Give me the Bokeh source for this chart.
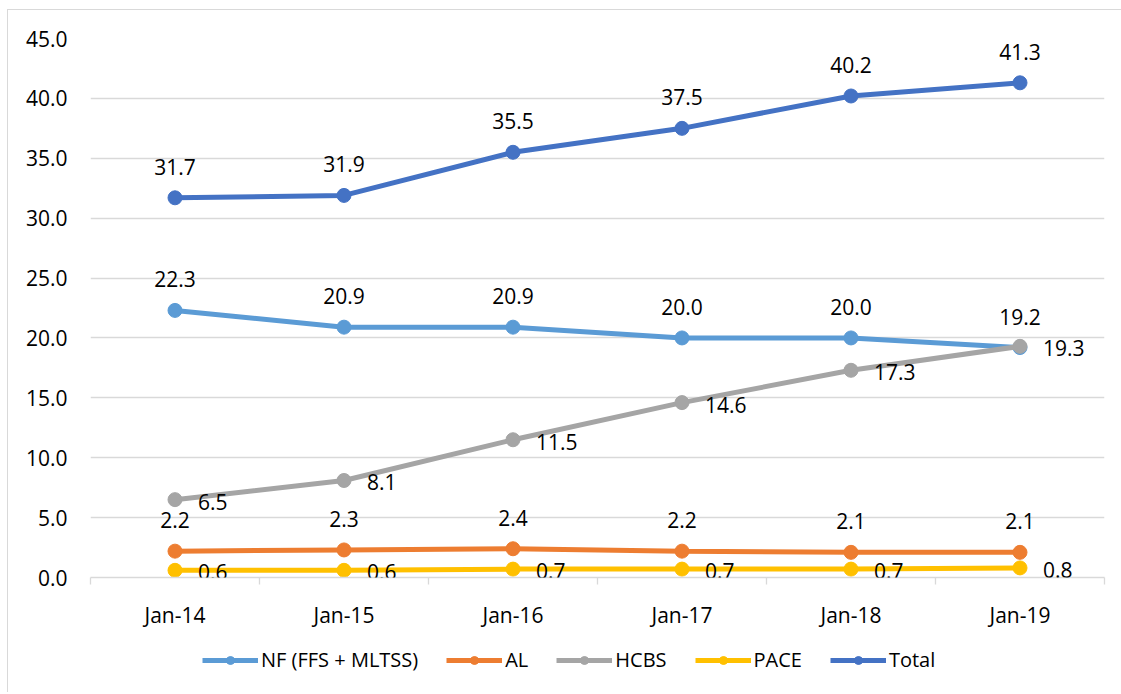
from bokeh.plotting import figure
from bokeh.layouts import column
from bokeh.models import (ColumnDataSource, Range1d, FixedTicker, Legend, LegendItem,
                          LabelSet, PrintfTickFormatter)
from bokeh.core.properties import value
from bokeh.embed import file_html
from bokeh.resources import INLINE

categories = ["Jan-14", "Jan-15", "Jan-16", "Jan-17", "Jan-18", "Jan-19"]
nf = [22.3, 20.9, 20.9, 20.0, 20.0, 19.2]
al = [2.2, 2.3, 2.4, 2.2, 2.1, 2.1]
hcbs = [6.5, 8.1, 11.5, 14.6, 17.3, 19.3]
pace = [0.6, 0.6, 0.7, 0.7, 0.7, 0.8]
total = [31.7, 31.9, 35.5, 37.5, 40.2, 41.3]
y_ticks = [0, 5, 10, 15, 20, 25, 30, 35, 40, 45]

series = [
    ("NF (FFS + MLTSS)", nf, "#5B9BD5", "above"),
    ("AL", al, "#ED7D31", "above"),
    ("HCBS", hcbs, "#A5A5A5", "right"),
    ("PACE", pace, "#FFC000", "right"),
    ("Total", total, "#4472C4", "above"),
]

FONT = "Open Sans"
FS = "21px"
xs = [i + 0.5 for i in range(len(categories))]

p = figure(width=1114, height=627, output_backend="svg", toolbar_location=None,
           x_range=Range1d(0, len(categories)), y_range=Range1d(0, 45),
           min_border_left=82, min_border_right=18, min_border_top=28,
           min_border_bottom=60)
p.styles = {"border-left": "1px solid #d9d9d9", "border-top": "1px solid #d9d9d9",
            "box-sizing": "border-box", "margin-left": "7px", "margin-top": "9px"}
p.outline_line_color = None
p.background_fill_color = "white"
p.border_fill_color = "white"

# grid / axes
p.xgrid.grid_line_color = None
p.ygrid.grid_line_color = "#d9d9d9"
p.ygrid.grid_line_width = 1.3
p.yaxis.ticker = FixedTicker(ticks=y_ticks)
p.yaxis.formatter = PrintfTickFormatter(format="%.1f")
p.yaxis.axis_line_color = None
p.yaxis.major_tick_line_color = None
p.yaxis.major_tick_out = 0
p.yaxis.minor_tick_line_color = None
p.yaxis.major_label_standoff = 23
p.yaxis.major_label_text_font = FONT
p.yaxis.major_label_text_font_size = FS
p.yaxis.major_label_text_color = "#000000"

p.xaxis.ticker = FixedTicker(ticks=xs, minor_ticks=list(range(len(categories) + 1)))
p.xaxis.major_label_overrides = {x: c for x, c in zip(xs, categories)}
p.xaxis.axis_line_color = "#d9d9d9"
p.xaxis.axis_line_width = 1.3
p.xaxis.major_tick_line_color = None
p.xaxis.major_tick_out = 0
p.xaxis.minor_tick_line_color = "#d9d9d9"
p.xaxis.minor_tick_line_width = 1.3
p.xaxis.minor_tick_out = 7
p.xaxis.minor_tick_in = 0
p.xaxis.major_label_standoff = 16
p.xaxis.major_label_text_font = FONT
p.xaxis.major_label_text_font_size = FS
p.xaxis.major_label_text_color = "#000000"

# legend-only strip below the chart
lg = figure(width=1114, height=56, output_backend="svg", toolbar_location=None,
            x_range=Range1d(0, 1), y_range=Range1d(0, 1),
            x_axis_type=None, y_axis_type=None,
            min_border_left=0, min_border_right=0, min_border_top=0, min_border_bottom=0)
lg.styles = {"border-left": "1px solid #d9d9d9", "box-sizing": "border-box",
             "margin-left": "7px"}
lg.outline_line_color = None
lg.xgrid.grid_line_color = None
lg.ygrid.grid_line_color = None
lg.background_fill_color = "white"
lg.border_fill_color = "white"

items = []
label_sets = []
for name, vals, color, pos in series:
    src = ColumnDataSource(dict(x=xs, y=vals, t=[f"{v:.1f}" for v in vals]))
    p.line("x", "y", source=src, line_color=color, line_width=5)
    p.scatter("x", "y", source=src, size=14, fill_color=color, line_color=color)
    # legend proxies: one point placed outside the strip's visible range
    l1 = lg.line(x=[-5, -4], y=[-5, -5], line_color=color, line_width=5)
    l2 = lg.scatter(x=[-5], y=[-5], size=14, fill_color=color, line_color=color)
    items.append(LegendItem(label=name, renderers=[l1, l2]))
    if pos == "above":
        ls = LabelSet(x="x", y="y", text="t", source=src, x_offset=0, y_offset=31,
                      text_align="center", text_baseline="middle",
                      text_font=value(FONT), text_font_size=FS, text_color="#000000")
    else:
        ls = LabelSet(x="x", y="y", text="t", source=src, x_offset=23, y_offset=-2,
                      text_align="left", text_baseline="middle",
                      text_font=value(FONT), text_font_size=FS, text_color="#000000")
    label_sets.append(ls)
for ls in label_sets:
    p.add_layout(ls)

legend = Legend(items=items, orientation="horizontal", location=(112, 19),
                label_text_font=FONT, label_text_font_size="20px",
                label_text_color="#000000", glyph_width=56, glyph_height=20,
                label_standoff=3, spacing=28, border_line_color=None,
                background_fill_alpha=0, margin=0, padding=0)
lg.add_layout(legend, "center")

layout = column(p, lg, spacing=0)
open("out.html", "w").write(file_html(layout, INLINE))
